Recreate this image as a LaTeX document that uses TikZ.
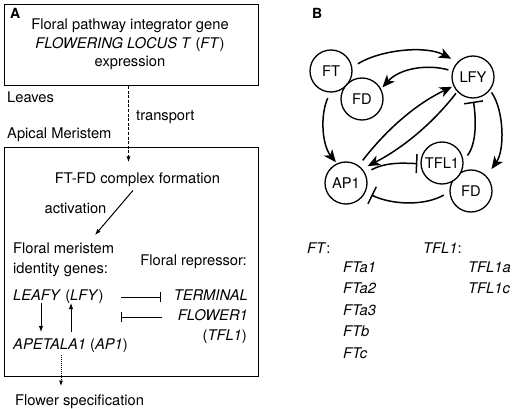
\documentclass[tikz,border=0pt]{standalone}
\usepackage{fontspec}
\setmainfont{TeX Gyre Heros}
\usetikzlibrary{arrows.meta,calc}
\newcommand\fsz{\fontsize{14.7}{18.5}\selectfont}
\begin{document}
\begin{tikzpicture}[x=1pt,y=-1pt,
  boxA/.style={draw, line width=1pt, inner sep=0pt, anchor=north west},
  txt/.style={inner sep=0pt, font=\fsz},
  lbl/.style={inner sep=0pt, font=\fontsize{14}{16}\selectfont\bfseries, anchor=base west},
  circ/.style={circle, draw, line width=1.3pt, fill=white, minimum size=42pt, inner sep=0pt, font=\fsz},
  barr/.style={-{Stealth[length=12.5pt,width=10.5pt,inset=3.5pt]}, line width=1.5pt},
  inhB/.style={-{Bar[width=19pt,line width=1.5pt]}, line width=1.5pt},
  sarr/.style={-{Latex[length=6pt,width=4.5pt]}, line width=1pt},
  thinarr/.style={-{Latex[length=5.5pt,width=4pt]}, line width=0.8pt},
  inhA/.style={-{Bar[width=10pt,line width=1pt]}, line width=1pt},
]
\useasboundingbox (0,0) rectangle (517,409);
% ---------- Panel A ----------
\node[lbl] (labA) at (10,19) {A};
\node[boxA, minimum width=254pt, minimum height=81pt] (topbox) at (4,4) {};
\node[txt, anchor=base] (t1) at (130,30) {Floral pathway integrator gene};
\node[txt, anchor=base] (t2) at (130,49) {\textit{FLOWERING LOCUS T} (\textit{FT})};
\node[txt, anchor=base] (t3) at (130,67) {expression};
\node[txt, anchor=base west] (leaves) at (7,103) {Leaves};
\node[txt, anchor=base west] (transport) at (136,121) {transport};
\node[txt, anchor=base west] (apical) at (7,139) {Apical Meristem};
\node[boxA, minimum width=254pt, minimum height=229pt] (botbox) at (4,147) {};
\node[txt, anchor=base] (ftfd) at (137.5,183) {FT-FD complex formation};
\node[txt, anchor=base] (activation) at (75.5,213) {activation};
\node[txt, anchor=base west] (fm1) at (13,253) {Floral meristem};
\node[txt, anchor=base west] (fm2) at (13,273) {identity genes:};
\node[txt, anchor=base east] (frep) at (247,265) {Floral repressor:};
\node[txt, anchor=base west] (leafy) at (13,300) {\textit{LEAFY} (\textit{LFY})};
\node[txt, anchor=base east] (term) at (248,300) {\textit{TERMINAL}};
\node[txt, anchor=base east] (flower) at (248,320) {\textit{FLOWER1}};
\node[txt, anchor=base east] (tfl) at (247,340) {(\textit{TFL1})};
\node[txt, anchor=base west] (apetala) at (13,349) {\textit{APETALA1} (\textit{AP1})};
\node[txt, anchor=base west] (flspec) at (15,405) {Flower specification};
\coordinate (tr) at (128.5,162);
\draw[thinarr, dash pattern=on 3pt off 1.6pt] (topbox.south -| tr) -- (tr);
\coordinate (actend) at (95,235);
\draw[sarr] ($(ftfd.south)+(-4.5,4)$) -- (actend);
\coordinate (d1) at (41,303); \coordinate (d2) at (41,332);
\draw[sarr] (d1) -- (d2);
\coordinate (u1) at (71,332); \coordinate (u2) at (71,303);
\draw[sarr] (u1) -- (u2);
\coordinate (i1) at (121,297); \coordinate (i2) at (161,297);
\draw[inhA] (i1) -- (i2);
\coordinate (i3) at (162,317); \coordinate (i4) at (121,317);
\draw[inhA] (i3) -- (i4);
\coordinate (fs1) at (61,355); \coordinate (fs2) at (61,386);
\draw[thinarr, dash pattern=on 1pt off 1pt] (fs1) -- (fs2);
% ---------- Panel B ----------
\node[lbl] (labB) at (312,19) {B};
\node[circ] (FT) at (331,71) {FT};
\node[circ] (FDa) at (362,99) {FD};
\node[circ] (LFY) at (473,77) {LFY};
\node[circ] (AP1) at (346,183) {AP1};
\node[circ] (FDb) at (471,191) {FD};
\node[circ] (TFL1) at (442,163) {TFL1};
% arrows
\draw[barr, shorten <=6.5pt, shorten >=7pt] (FT.10) .. controls (380,50) and (425,45) .. (LFY.136);
\draw[barr, shorten <=4pt, shorten >=2pt] (LFY.164) .. controls (428,64) and (400,68) .. (FDa.28);
\draw[barr, shorten <=6pt, shorten >=1.5pt] (FT.268) .. controls (320,115) and (322,145) .. (AP1.115);
\draw[barr, shorten <=6.5pt, shorten >=1.5pt] (AP1.54) .. controls (387,129) and (416,104) .. (LFY.205);
\draw[barr, shorten <=2pt, shorten >=6pt] (LFY.223) .. controls (433,123) and (403,148) .. (AP1.41);
\draw[barr, shorten <=2.5pt, shorten >=8.5pt] (LFY.322) .. controls (504,110) and (505,150) .. (FDb.44);
% inhibitions
\draw[inhB, shorten <=6.5pt, shorten >=3pt] (TFL1.6) .. controls (477,143) and (476,118) .. (LFY.270);
\draw[inhB, shorten <=7pt, shorten >=3pt] (AP1.27) .. controls (386,162) and (402,163) .. (TFL1.182);
\draw[inhB, shorten <=6.5pt, shorten >=6.5pt] (FDb.182) .. controls (425,206) and (392,205) .. (AP1.335);
% gene lists
\node[txt, anchor=base west] (ftl) at (307,253) {\textit{FT}:};
\node[txt, anchor=base west] (fta1) at (343,272) {\textit{FTa1}};
\node[txt, anchor=base west] (fta2) at (343,293.5) {\textit{FTa2}};
\node[txt, anchor=base west] (fta3) at (343,315) {\textit{FTa3}};
\node[txt, anchor=base west] (ftb) at (343,336.5) {\textit{FTb}};
\node[txt, anchor=base west] (ftc) at (343,358) {\textit{FTc}};
\node[txt, anchor=base west] (tfll) at (423,253) {\textit{TFL1}:};
\node[txt, anchor=base west] (tfla) at (468,272) {\textit{TFL1a}};
\node[txt, anchor=base west] (tflc) at (468,293.5) {\textit{TFL1c}};
\end{tikzpicture}
\end{document}
